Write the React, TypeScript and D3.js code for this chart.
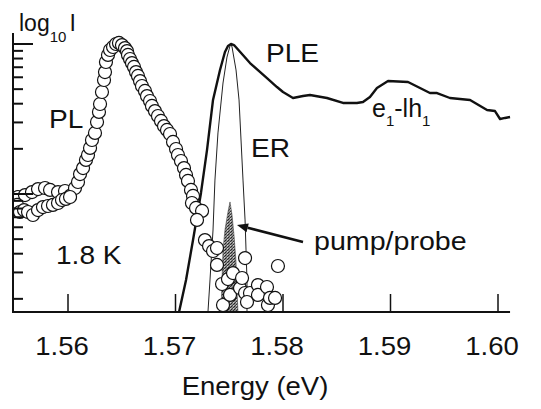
import React from "react";
import * as d3 from "d3";

const W = 541;
const H = 409;

// Energy axis ticks
const xTicks = [1.56, 1.57, 1.58, 1.59, 1.6];
const xTickLabels = ["1.56", "1.57", "1.58", "1.59", "1.60"];

// PLE spectrum: energy (eV) and log10 intensity
const pleEnergy = [
  1.57033, 1.57098, 1.57163, 1.57237, 1.57293, 1.57349, 1.57414, 1.5746, 1.57488,
  1.57516, 1.57544, 1.57693, 1.57851, 1.57944, 1.58, 1.58093, 1.58186, 1.58251,
  1.58409, 1.58558, 1.58688, 1.58744, 1.58809, 1.58874, 1.58977, 1.59163, 1.59256,
  1.59367, 1.59433, 1.59553, 1.5974, 1.59898, 1.59972, 1.60019, 1.60065, 1.60112,
];
const pleLog = [
  -0.787, -0.573, -0.307, 0.007, 0.293, 0.627, 0.827, 0.947, 0.987,
  1.0, 0.993, 0.873, 0.773, 0.713, 0.68, 0.64, 0.653, 0.66,
  0.64, 0.607, 0.607, 0.613, 0.647, 0.707, 0.753, 0.747, 0.713,
  0.673, 0.673, 0.64, 0.627, 0.56, 0.553, 0.5, 0.507, 0.513,
];

// Electroreflectance peak
const erEnergy = [
  1.57302, 1.57321, 1.57349, 1.57367, 1.57395, 1.57442, 1.57479, 1.57507, 1.57516,
  1.57526, 1.57563, 1.57591, 1.57628, 1.57647, 1.57656, 1.57665, 1.57665,
];
const erLog = [
  -0.787, -0.573, -0.24, 0.093, 0.407, 0.74, 0.913, 0.987, 1.0,
  0.98, 0.827, 0.627, 0.093, -0.173, -0.373, -0.573, -0.787,
];

// Pump/probe laser line
const pumpEnergy = [
  1.57423, 1.57433, 1.57442, 1.5746, 1.57488, 1.57507, 1.57526, 1.57544, 1.57563,
  1.57572, 1.57581,
];
const pumpLog = [
  -0.787, -0.573, -0.373, -0.24, -0.12, -0.053, -0.14, -0.273, -0.453, -0.64, -0.787,
];

// PL spectrum (open circles)
const plEnergy = [
  1.55535, 1.556, 1.55665, 1.55721, 1.55786, 1.55833, 1.55907, 1.55972, 1.56019,
  1.56065, 1.56093, 1.56112, 1.5614, 1.56167, 1.56186, 1.56205, 1.56223, 1.56251,
  1.5627, 1.56288, 1.56298, 1.56316, 1.56335, 1.56344, 1.56353, 1.56372, 1.56391,
  1.56419, 1.56447, 1.56474, 1.56502, 1.5653, 1.56549, 1.56558, 1.56577, 1.56595,
  1.56614, 1.56633, 1.56651, 1.5667, 1.56688, 1.56716, 1.56735, 1.56763, 1.56781,
  1.56809, 1.56837, 1.56865, 1.56893, 1.56921, 1.56949, 1.56977, 1.57005, 1.57023,
  1.57051, 1.57079, 1.57098, 1.57116, 1.57144, 1.57163, 1.57153, 1.57191, 1.57247,
  1.572, 1.57274, 1.57312, 1.57349, 1.57386, 1.57386, 1.57433, 1.57488, 1.57535,
  1.57442, 1.57507, 1.576, 1.57619, 1.57647, 1.57647, 1.57693, 1.57665, 1.57767,
  1.57767, 1.57851, 1.5786, 1.57879, 1.57926, 1.57953,
  1.55526, 1.55553, 1.55591, 1.55628, 1.55674, 1.55721, 1.55767, 1.55814, 1.5586,
  1.55907, 1.55944, 1.55981, 1.56019,
];
const plLog = [
  -0.02, -0.007, 0.013, 0.033, 0.04, 0.027, 0.013, 0.02, -0.013,
  0.04, 0.08, 0.133, 0.173, 0.227, 0.26, 0.307, 0.36, 0.407,
  0.48, 0.547, 0.6, 0.68, 0.76, 0.813, 0.88, 0.927, 0.96,
  0.98, 1.0, 1.007, 0.993, 0.973, 0.953, 0.927, 0.9, 0.873,
  0.847, 0.813, 0.787, 0.753, 0.72, 0.687, 0.653, 0.62, 0.587,
  0.553, 0.52, 0.487, 0.453, 0.427, 0.4, 0.347, 0.3, 0.26,
  0.22, 0.173, 0.127, 0.087, 0.027, -0.013, -0.06, -0.093, -0.113,
  -0.173, -0.307, -0.347, -0.38, -0.36, -0.473, -0.6, -0.567, -0.527,
  -0.74, -0.673, -0.627, -0.56, -0.427, -0.66, -0.66, -0.72, -0.607,
  -0.673, -0.62, -0.74, -0.693, -0.693, -0.48,
  -0.073, -0.12, -0.107, -0.12, -0.14, -0.107, -0.087, -0.08, -0.073,
  -0.06, -0.04, -0.033, -0.02,
];

// log10 tick positions: decades and the 2..9 steps
const yMajor = [0, 1];
const yMinor = [-1, 0].flatMap((d) =>
  [2, 3, 4, 5, 6, 7, 8, 9].map((k) => d + Math.log10(k))
);

const x = d3.scaleLinear().domain([1.56, 1.6]).range([68, 498]);
const y = d3.scaleLinear().domain([0, 1]).range([194, 44]);

const left = 13;
const bottom = 312;
const axisTop = 33;
const right = x(1.60112);

const FONT = "'Liberation Sans', Arial, Helvetica, sans-serif";

function Label(props: {
  x: number;
  y: number;
  size: number;
  anchor?: string;
  sx?: number;
  children: React.ReactNode;
}) {
  const { sx = 1.08, anchor = "start" } = props;
  return (
    <text
      transform={`translate(${props.x},${props.y}) scale(${sx},1)`}
      fontSize={props.size}
      fontFamily={FONT}
      textAnchor={anchor}
      fill="#111"
    >
      {props.children}
    </text>
  );
}

const toPath = (es: number[], ls: number[]) =>
  d3
    .line<[number, number]>()
    .x((d) => x(d[0]))
    .y((d) => y(d[1]))
    .curve(d3.curveLinear)(es.map((e, i) => [e, ls[i]])) ?? "";

export default function App() {
  const plePath = toPath(pleEnergy, pleLog);
  const erPath = toPath(erEnergy, erLog);
  const pumpPath = toPath(pumpEnergy, pumpLog) + "Z";

  // arrow pointing at the pump/probe line
  const ax0 = x(1.58186);
  const ay0 = y(-0.32);
  const ax1 = x(1.57572);
  const ay1 = y(-0.207);
  const ang = Math.atan2(ay1 - ay0, ax1 - ax0);
  const hl = 11;
  const hw = 4.5;
  const bx = ax1 - hl * Math.cos(ang);
  const by = ay1 - hl * Math.sin(ang);
  const head = `M${ax1},${ay1}L${bx - hw * Math.sin(ang)},${by + hw * Math.cos(ang)}L${bx + hw * Math.sin(ang)},${by - hw * Math.cos(ang)}Z`;

  return (
    <svg
      width={W}
      height={H}
      style={{ position: "absolute", left: 0, top: 0, background: "#fff" }}
    >
      <defs>
        <pattern id="stipple" width="3" height="3" patternUnits="userSpaceOnUse">
          <rect width="3" height="3" fill="#8a8a8a" />
          <rect x="0" y="0" width="1" height="1" fill="#222" />
          <rect x="2" y="1" width="1" height="1" fill="#333" />
          <rect x="1" y="2" width="1" height="1" fill="#444" />
          <rect x="2" y="2" width="1" height="1" fill="#ccc" />
        </pattern>
        <clipPath id="plot">
          <rect x={left + 1} y={0} width={right - left} height={bottom} />
        </clipPath>
      </defs>

      {/* pump/probe line */}
      <path d={pumpPath} fill="url(#stipple)" stroke="#444" strokeWidth={0.6} />

      {/* ER */}
      <path d={erPath} fill="none" stroke="#222" strokeWidth={1} />

      {/* PLE */}
      <path
        d={plePath}
        fill="none"
        stroke="#111"
        strokeWidth={2.4}
        strokeLinejoin="round"
      />

      {/* PL circles */}
      <g clipPath="url(#plot)">
        {plEnergy.map((e, i) => (
          <circle
            key={i}
            cx={x(e)}
            cy={y(plLog[i])}
            r={6.5}
            fill="#fff"
            stroke="#111"
            strokeWidth={1.2}
          />
        ))}
      </g>

      {/* arrow */}
      <line x1={ax0} y1={ay0} x2={bx} y2={by} stroke="#111" strokeWidth={2.6} />
      <path d={head} fill="#111" />

      {/* axes */}
      <line x1={left} y1={axisTop} x2={left} y2={bottom} stroke="#111" strokeWidth={2} />
      <line x1={left - 1} y1={bottom} x2={right} y2={bottom} stroke="#111" strokeWidth={2} />
      {yMajor.map((v) => (
        <line key={"M" + v} x1={left} x2={left + 20} y1={y(v)} y2={y(v)} stroke="#111" strokeWidth={2} />
      ))}
      {yMinor.map((v, i) => (
        <line key={"m" + i} x1={left} x2={left + 10} y1={y(v)} y2={y(v)} stroke="#111" strokeWidth={2} />
      ))}
      {xTicks.map((t) => (
        <line key={t} x1={x(t)} x2={x(t)} y1={bottom} y2={bottom - 18} stroke="#111" strokeWidth={1.5} />
      ))}
      {xTicks.map((t, i) => (
        <Label key={"l" + t} x={x(t) - 6} y={355} size={25} anchor="middle" sx={1.1}>
          {xTickLabels[i]}
        </Label>
      ))}
      <Label x={255} y={395} size={25} anchor="middle" sx={1.1}>
        Energy (eV)
      </Label>

      {/* y label */}
      <text x={19} y={31} fontSize={23} fontFamily={FONT} fill="#111">
        log
        <tspan fontSize={15} dy={11}>10</tspan>
        <tspan dy={-11} dx={3}>I</tspan>
      </text>

      {/* annotations */}
      <Label x={266} y={62} size={26}>PLE</Label>
      <Label x={251} y={157} size={26}>ER</Label>
      <Label x={49} y={128} size={26}>PL</Label>
      <Label x={56} y={264} size={26}>1.8 K</Label>
      <Label x={314} y={250} size={26} sx={1.1}>pump/probe</Label>
      <text x={372} y={117} fontSize={25} fontFamily={FONT} fill="#111">
        e
        <tspan fontSize={15} dy={9}>1</tspan>
        <tspan dy={-9}>-lh</tspan>
        <tspan fontSize={15} dy={9}>1</tspan>
      </text>
    </svg>
  );
}
